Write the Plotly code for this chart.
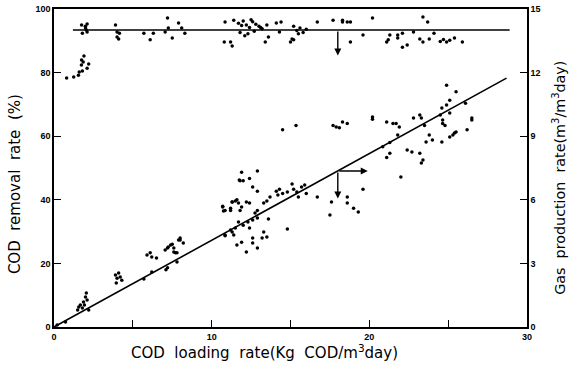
import plotly.graph_objects as go

# COD removal rate (%) vs COD loading rate
rem_x = [0.8, 1.25, 1.55, 1.6, 1.8, 1.74, 1.85, 1.9, 2.1, 2.2, 1.75,
         1.75, 1.99, 2.1, 2.05, 1.8, 2.1, 2.0,
         3.9, 4.0, 4.0, 4.15, 4.1,
         5.7, 6.1, 6.3,
         7.05, 7.2, 7.25, 7.5, 7.9, 8.1, 8.3,
         10.85, 11.4, 10.8, 11.2, 11.3,
         11.7, 11.9, 12.0, 12.2, 12.4, 12.6, 12.8, 13.0, 13.2, 13.5, 11.8, 12.3, 12.7, 13.1, 12.1, 12.5,
         13.4, 13.6, 14.1, 14.4, 14.3, 15.0, 15.1,
         15.2, 15.4, 15.6, 15.8, 16.0, 15.5,
         16.7, 17.7, 18.3, 18.3, 18.6, 18.8, 18.8, 19.6, 20.2,
         23.4, 23.7, 21.2, 21.8, 22.1, 22.4, 22.1, 23.2, 23.4, 23.8,
         24.5, 24.7, 24.9, 25.1, 25.4, 25.9, 22.8, 24.1, 21.1, 21.3, 21.8, 15.2]
rem_y = [78.3, 78.6, 79.2, 80.2, 80.5, 82.4, 83.3, 85.2, 81.4, 82.7, 84.0,
         95.0, 94.6, 95.3, 93.4, 92.4, 92.8, 94.0,
         95.0, 92.8, 91.2, 92.4, 90.6,
         92.4, 90.3, 92.4,
         92.8, 97.2, 94.0, 90.9, 95.6, 94.0, 92.4,
         95.9, 96.5, 89.6, 89.6, 88.4,
         95.5, 94.8, 96.2, 95.0, 94.2, 96.0, 95.2, 94.6, 93.8, 95.0, 92.6, 92.2, 93.0, 94.2, 91.6, 96.6,
         89.6, 91.2, 95.6, 95.9, 92.8, 89.6, 90.6,
         94.6, 93.2, 94.0, 92.6, 93.6, 92.2,
         95.9, 96.5, 96.5, 95.9, 95.9, 95.9, 89.6, 91.8, 97.2,
         97.5, 95.9, 90.3, 91.8, 88.0, 88.7, 92.4, 90.6, 89.6, 90.6,
         89.8, 90.4, 89.6, 90.2, 90.9, 89.6, 92.8, 92.4, 89.6, 91.8, 90.9, 90.3]

# Gas production rate (m3/m3 day) vs COD loading rate
gas_x = [0.2, 0.73, 1.5, 1.67, 1.87, 2.0, 2.05, 2.1, 1.8, 2.2, 1.93, 1.57,
         3.9, 4.0, 4.1, 4.2, 3.95, 4.3,
         5.7, 6.2, 5.9, 6.1, 6.2, 6.5, 7.05, 7.2, 7.4, 7.6, 7.8, 8.0, 8.2, 7.8, 7.1, 7.6, 7.25, 7.5, 7.9, 7.7, 7.2,
         10.7, 10.85, 11.2, 11.3, 11.6, 11.75, 11.4, 10.85, 8.0,
         11.9, 12.9, 11.8, 12.0, 12.4, 12.6, 12.9,
         11.3, 11.5, 11.7, 11.9, 12.2, 12.4, 11.8, 10.7, 10.75, 11.2, 12.9, 12.75,
         11.7, 12.0, 12.3, 12.6, 12.9, 12.4, 10.85, 11.3, 11.2, 11.5,
         11.6, 11.9, 12.2, 12.6, 12.6, 12.9, 13.2, 13.3, 13.5, 13.6, 14.8,
         13.3, 13.5, 13.7, 14.1, 14.3, 14.5, 14.8, 15.1, 15.2, 15.4, 15.7, 15.9, 15.5, 16.0, 16.7, 14.2,
         17.6, 18.6, 18.6, 19.0, 19.3, 17.5, 19.6,
         14.5, 15.35, 17.7, 17.9, 18.3, 18.1, 18.6,
         20.2, 20.2, 21.1, 21.5, 21.7, 21.8, 21.3, 21.1, 21.3, 20.85,
         21.9, 23.2, 23.3, 24.5, 24.65, 24.8, 25.1, 26.5, 26.2, 25.4, 25.1, 24.6, 23.8, 23.6, 24.0,
         22.4, 22.7, 23.2, 23.3, 23.4, 22.0, 25.5, 25.3,
         24.9, 25.5, 25.1, 26.1, 24.9, 24.6, 24.65, 22.8, 26.5, 23.5]
gas_y = [0.1, 0.24, 0.8, 1.04, 1.18, 1.42, 1.6, 1.27, 0.9, 0.8, 1.04, 0.94,
         2.45, 2.3, 2.55, 2.36, 2.08, 2.2,
         2.26, 2.6, 3.4, 3.5, 3.3, 3.25, 3.63, 3.73, 3.87, 3.54, 3.5, 4.1, 3.96, 3.07, 2.7, 3.73, 3.77, 3.9, 4.1, 3.5, 2.8,
         5.66, 5.5, 5.6, 5.9, 6.0, 6.93, 4.34, 4.3, 4.2,
         7.3, 7.36, 6.9, 6.9, 7.0, 6.6, 6.4,
         5.9, 5.94, 5.85, 5.66, 5.9, 5.85, 5.5, 5.7, 5.47, 5.5, 5.5, 5.38,
         4.95, 4.8, 4.95, 5.05, 5.14, 4.67, 4.34, 4.48, 4.58, 4.67,
         3.87, 4.0, 3.54, 3.96, 4.2, 3.73, 4.2, 4.48, 4.25, 5.1, 4.62,
         5.85, 5.94, 6.13, 6.4, 6.5, 6.3, 6.37, 6.75, 6.5, 6.37, 6.6, 6.7, 6.13, 6.3, 6.13, 6.23,
         5.9, 6.13, 5.85, 5.6, 5.42, 5.28, 6.5,
         9.3, 9.5, 9.5, 9.43, 9.67, 9.4, 9.6,
         9.9, 9.8, 9.67, 9.6, 9.6, 9.06, 8.7, 8.0, 8.2, 8.5,
         9.43, 10.0, 9.86, 10.0, 9.6, 9.5, 10.1, 9.76, 9.3, 9.15, 8.96, 8.73, 9.06, 8.73, 8.82,
         8.35, 8.25, 8.2, 7.73, 7.88, 7.08, 9.2, 9.06,
         11.4, 11.1, 10.7, 10.55, 10.47, 10.33, 9.76, 9.86, 9.86, 9.5]

# fitted lines
removal_mean = 93.4
removal_line_x = [1.2, 28.9]
gas_slope = 0.409
gas_line_x = [0.0, 28.7]
arrow_x = 18.0

x_ticks = [0, 5, 10, 15, 20, 25, 30]
x_ticktext = ["0", "", "10", "", "20", "", "30"]
y_ticks = [0, 20, 40, 60, 80, 100]
y2_ticks = [0, 3, 6, 9, 12, 15]

x_title = "COD  loading  rate(Kg  COD/m<sup>3</sup>day)"
y_title = "COD  removal  rate  (%)"
y2_title = "Gas  production  rate(m<sup>3</sup>/m<sup>3</sup>day)"

fig = go.Figure()
fig.add_trace(go.Scatter(x=rem_x, y=rem_y, mode="markers",
                         marker=dict(color="black", size=3.5), yaxis="y"))
fig.add_trace(go.Scatter(x=gas_x, y=gas_y, mode="markers",
                         marker=dict(color="black", size=3.5), yaxis="y2"))
fig.add_trace(go.Scatter(x=removal_line_x, y=[removal_mean] * 2, mode="lines",
                         line=dict(color="black", width=1.6), yaxis="y"))
fig.add_trace(go.Scatter(x=gas_line_x, y=[gas_slope * v for v in gas_line_x], mode="lines",
                         line=dict(color="black", width=1.6), yaxis="y2"))

gas_at_arrow = gas_slope * arrow_x
fig.add_annotation(x=arrow_x, y=removal_mean - 8, ax=arrow_x, ay=removal_mean,
                   xref="x", yref="y", axref="x", ayref="y", text="",
                   showarrow=True, arrowhead=2, arrowsize=1, arrowwidth=1.4, arrowcolor="black")
fig.add_annotation(x=arrow_x, y=gas_at_arrow - 1.3, ax=arrow_x, ay=gas_at_arrow,
                   xref="x", yref="y2", axref="x", ayref="y2", text="",
                   showarrow=True, arrowhead=2, arrowsize=1, arrowwidth=1.4, arrowcolor="black")
fig.add_annotation(x=arrow_x + 1.9, y=gas_at_arrow, ax=arrow_x, ay=gas_at_arrow,
                   xref="x", yref="y2", axref="x", ayref="y2", text="",
                   showarrow=True, arrowhead=2, arrowsize=1, arrowwidth=1.4, arrowcolor="black")

tickfont = dict(family="Liberation Sans", size=9, color="black", weight="bold")
titlefont = dict(family="DejaVu Sans", size=15, color="black")

# axis titles as annotations (placed like the original)
fig.add_annotation(x=0.444, y=-0.08, xref="paper", yref="paper", text=x_title,
                   showarrow=False, xanchor="center", yanchor="middle", font=titlefont)
fig.add_annotation(x=-0.082, y=0.45, xref="paper", yref="paper", text=y_title, textangle=-90,
                   showarrow=False, xanchor="center", yanchor="middle", font=titlefont)
fig.add_annotation(x=1.066, y=0.47, xref="paper", yref="paper", text=y2_title, textangle=-90,
                   showarrow=False, xanchor="center", yanchor="middle",
                   font=dict(family="DejaVu Sans", size=14.3, color="black"))

fig.update_layout(
    width=573, height=370,
    margin=dict(l=54, r=46, t=9, b=43),
    paper_bgcolor="white", plot_bgcolor="white",
    showlegend=False,
    xaxis=dict(range=[0, 30], tickvals=x_ticks, ticktext=x_ticktext, automargin=False,
               ticks="inside", ticklen=7, tickwidth=1.2, tickcolor="black",
               showline=True, linecolor="black", linewidth=1.5, mirror=True,
               showgrid=False, zeroline=False, tickfont=tickfont),
    yaxis=dict(range=[0, 100], tickvals=y_ticks, automargin=False,
               ticks="inside", ticklen=7, tickwidth=1.2, tickcolor="black",
               showline=True, linecolor="black", linewidth=1.5,
               showgrid=False, zeroline=False, tickfont=tickfont),
    yaxis2=dict(range=[0, 15], tickvals=y2_ticks, overlaying="y", side="right", automargin=False,
                ticks="inside", ticklen=7, tickwidth=1.2, tickcolor="black",
                showline=True, linecolor="black", linewidth=1.5,
                showgrid=False, zeroline=False, tickfont=tickfont),
)

fig.write_html("out.html", config={"displayModeBar": False},
               post_script="document.body.style.margin='0';document.body.style.padding='0';")
